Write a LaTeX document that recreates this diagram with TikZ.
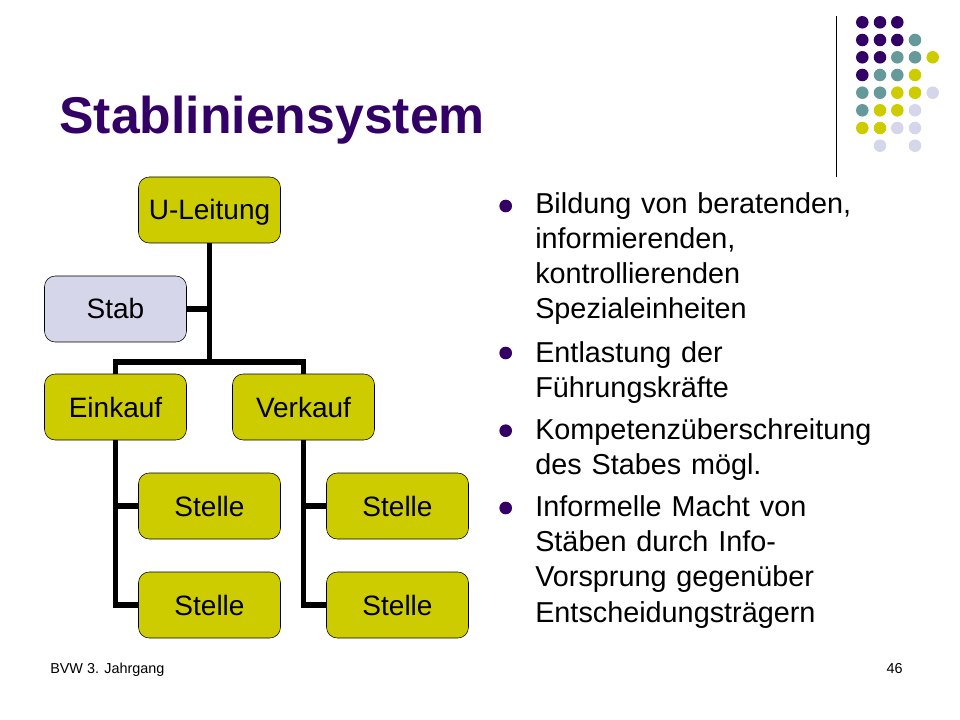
\documentclass[tikz,border=0pt]{standalone}
\usepackage{fontspec}
\setmainfont{Liberation Sans}
\usetikzlibrary{shapes}
\definecolor{violet}{HTML}{330066}
\definecolor{sarcelle}{HTML}{669999}
\definecolor{olive}{HTML}{CCCC00}
\definecolor{lavande}{HTML}{D6D6EA}
\newcommand{\corps}{\fontsize{21.6}{26.3}\selectfont\spaceskip 7.4pt\relax}
\tikzstyle{poste}=[
        rectangle,
        draw=black,
        rounded corners=8pt,
        fill=olive,
        minimum width=106.5pt,
        minimum height=49.5pt,
        inner sep=0pt,
        text height=15pt,
        text depth=0pt,
        font=\fontsize{21}{25}\selectfont
]
\tikzstyle{conseil}=[poste,fill=lavande]
\tikzstyle{lien}=[line width=4.2pt]
\tikzstyle{puce}=[circle,fill=violet,minimum size=9.5pt,inner sep=0pt]
\tikzstyle{texte}=[anchor=base west,align=left,inner sep=0pt,font=\corps]
\tikzstyle{pied}=[inner sep=0pt,font=\fontsize{10.8}{13}\selectfont]

\begin{document}
\begin{tikzpicture}[x=0.75pt,y=-0.75pt]
\useasboundingbox (0,0) rectangle (960,720);
\node[anchor=base west,inner sep=0pt,text=violet,font=\fontsize{38.8}{46}\selectfont\bfseries] (titre) at (59,134) {Stabliniensystem};
\node[poste] (u) at (209.5,210) {U-Leitung};
\node[conseil] (stab) at (115.5,309) {Stab};
\node[poste] (e) at (115.5,407) {Einkauf};
\node[poste] (v) at (303.5,407) {Verkauf};
\node[poste] (e1) at (209.5,506) {Stelle};
\node[poste] (e2) at (209.5,605) {Stelle};
\node[poste] (v1) at (397.5,506) {Stelle};
\node[poste] (v2) at (397.5,605) {Stelle};
\coordinate (bus) at (209.5,362);
%Placement des liens
\draw[lien] (u) -- (bus);
\draw[lien] (u) |- (stab);
\draw[lien] (bus) -| (e);
\draw[lien] (bus) -| (v);
\draw[lien] (e) |- (e1);
\draw[lien] (e) |- (e2);
\draw[lien] (v) |- (v1);
\draw[lien] (v) |- (v2);
%Texte
\node[puce] (p1) at (505.7,206) {};
\node[puce] (p2) at (505.7,353) {};
\node[puce] (p3) at (505.7,430.7) {};
\node[puce] (p4) at (505.7,508) {};
\node[texte] (t1) at (535,319) {Bildung von beratenden,\\informierenden,\\kontrollierenden\\Spezialeinheiten};
\node[texte] (t2) at (535,397.5) {Entlastung der\\Führungskräfte};
\node[texte] (t3) at (535,474.5) {Kompetenzüberschreitung\\des Stabes mögl.};
\node[texte] (t4) at (535,622) {Informelle Macht von\\Stäben durch Info-\\Vorsprung gegenüber\\Entscheidungsträgern};
\node[pied,anchor=base west] (f1) at (50,673.5) {BVW 3. Jahrgang};
\node[pied,anchor=base east] (f2) at (903,673.5) {46};
%Decor
\draw[black,line width=0.8pt] (836.5,16) -- (836.5,177);
\foreach \x/\y in {862.3/22.3,880/22.3,897.3/22.3,862.3/40,880/40,897.3/40,862.3/57.3,880/57.3,862.3/75}
  \fill[violet] (\x,\y) circle (4.7pt);
\foreach \x/\y in {915/40,897.3/57.3,915/57.3,880/75,897.3/75,862.3/92.7,880/92.7,862.3/110.3}
  \fill[sarcelle] (\x,\y) circle (4.7pt);
\foreach \x/\y in {932.7/57.3,915/75,897.3/92.7,915/92.7,880/110.3,897.3/110.3,862.3/128,880/128}
  \fill[olive] (\x,\y) circle (4.7pt);
\foreach \x/\y in {932.7/92.7,915/110.3,897.3/128,915/128,880/145.7,915/145.7}
  \fill[lavande] (\x,\y) circle (4.7pt);
\end{tikzpicture}
\end{document}
